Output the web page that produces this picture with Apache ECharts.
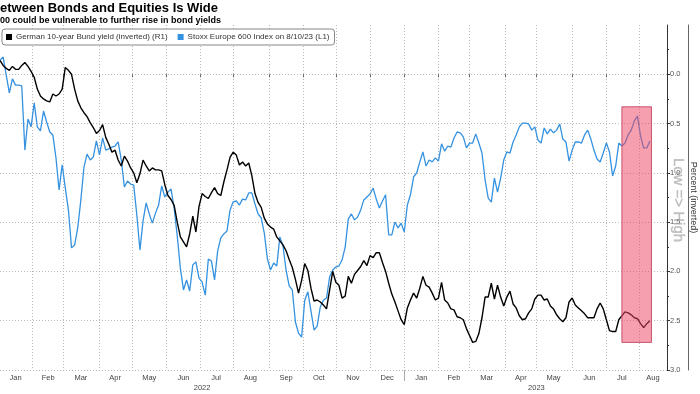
<!DOCTYPE html>
<html>
<head>
<meta charset="utf-8">
<script src="https://cdn.jsdelivr.net/npm/echarts@6/dist/echarts.min.js"></script>
<style>
html,body{margin:0;padding:0;background:#fff;}
#chart{width:700px;height:394px;}
</style>
</head>
<body>
<div id="chart"></div>
<script>
// ---- Data ----
const startDate = '2022-01-03';
const endDate = '2023-08-25';
const sampleStep = 2; // one value every 2nd business day
const seriesNames = ['German 10-year Bund yield (inverted) (R1)', 'Stoxx Europe 600 Index on 8/10/23 (L1)'];
const monthNames = ['Jan','Feb','Mar','Apr','May','Jun','Jul','Aug','Sep','Oct','Nov','Dec'];
const yieldTicks = [0, 0.5, 1.0, 1.5, 2.0, 2.5, 3.0];

const bundYield = [
 -0.14,-0.09,-0.06,-0.04,-0.08,-0.05,-0.05,-0.09,-0.12,-0.08,
 -0.03,0.03,0.15,0.22,0.25,0.27,0.28,0.20,0.22,0.20,
 0.15,-0.07,-0.04,0.00,0.15,0.27,0.34,0.39,0.43,0.49,
 0.54,0.60,0.57,0.51,0.64,0.71,0.79,0.77,0.87,0.93,
 0.83,0.88,0.95,1.00,1.10,1.01,0.87,0.93,0.98,0.95,
 0.97,0.97,0.98,1.12,1.23,1.27,1.33,1.50,1.65,1.70,
 1.75,1.62,1.44,1.60,1.34,1.21,1.24,1.26,1.20,1.15,
 1.21,1.23,1.09,0.97,0.84,0.79,0.82,0.92,0.89,0.93,
 0.90,1.03,1.21,1.30,1.35,1.46,1.52,1.55,1.57,1.65,
 1.69,1.73,1.79,1.88,1.96,2.08,2.22,2.09,1.92,1.99,
 2.17,2.30,2.29,2.31,2.34,2.38,2.19,2.00,2.11,2.14,
 2.27,2.25,2.05,2.12,2.03,1.99,1.95,1.89,1.94,1.84,
 1.86,1.81,1.81,1.91,2.00,2.12,2.23,2.31,2.40,2.49,
 2.54,2.37,2.29,2.22,2.27,2.17,2.05,2.14,2.16,2.22,
 2.29,2.27,2.11,2.29,2.32,2.38,2.39,2.46,2.47,2.49,
 2.58,2.65,2.72,2.71,2.63,2.47,2.26,2.26,2.12,2.28,
 2.14,2.26,2.35,2.26,2.20,2.33,2.37,2.45,2.49,2.48,
 2.42,2.38,2.28,2.24,2.24,2.29,2.28,2.35,2.38,2.44,
 2.48,2.51,2.47,2.31,2.27,2.34,2.37,2.40,2.43,2.47,
 2.47,2.47,2.38,2.32,2.38,2.49,2.60,2.61,2.61,2.49,
 2.45,2.41,2.42,2.44,2.47,2.48,2.53,2.57,2.53,2.50
];

const stoxx600 = [
 493.0,494.1,487.4,480.8,486.0,483.7,483.7,483.4,459.6,471.1,
 468.2,477.1,468.2,466.7,474.1,470.0,466.3,465.2,456.7,444.8,
 454.1,445.5,437.4,423.3,424.4,430.7,441.1,453.3,458.1,455.9,
 457.0,463.0,457.8,464.1,459.6,460.0,460.7,461.1,462.6,455.9,
 445.9,448.1,447.0,446.6,435.5,422.5,433.3,440.0,435.9,432.5,
 436.2,439.2,446.3,442.2,444.0,445.2,438.1,427.7,415.8,407.7,
 411.4,407.3,417.0,418.1,412.1,410.6,405.8,419.2,418.4,411.4,
 422.2,427.0,428.5,429.6,437.4,440.4,440.7,439.2,441.4,441.1,
 443.7,443.7,439.6,435.9,434.4,428.8,419.2,415.1,417.7,416.6,
 427.4,424.0,415.1,409.2,407.7,395.8,391.7,390.2,403.9,407.0,
 399.9,392.8,394.3,401.4,403.9,404.7,412.5,415.1,416.2,416.6,
 418.8,423.6,434.0,435.9,433.7,434.8,437.4,441.1,442.2,443.3,
 445.5,441.4,438.1,440.7,443.0,428.1,428.1,432.9,430.7,432.5,
 429.2,439.2,443.0,449.6,451.1,455.2,458.9,453.7,455.9,455.2,
 456.7,455.5,461.9,459.2,461.1,460.7,464.1,466.3,466.0,464.5,
 460.4,462.2,462.2,465.6,462.2,458.5,448.5,441.8,440.3,449.2,
 444.0,449.2,455.9,458.9,458.5,462.6,465.2,468.2,469.6,469.6,
 469.3,467.0,468.2,463.3,462.2,467.8,465.6,467.4,466.0,467.0,
 469.3,463.7,462.6,455.5,459.6,462.6,462.6,462.2,465.2,467.0,
 463.7,459.6,456.3,455.2,458.5,462.2,458.9,450.0,453.7,462.2,
 461.1,462.2,465.2,467.0,470.4,472.2,464.8,460.4,460.4,463.0
];

const highlightDates = ['2023-07-17', '2023-08-11'];
const highlightYields = [0.33, 2.72];

// ---- Build business-day categories ----
function businessDays(s, e) {
  const out = [];
  const d = new Date(s + 'T00:00:00Z');
  const end = new Date(e + 'T00:00:00Z');
  while (d <= end) {
    const w = d.getUTCDay();
    if (w !== 0 && w !== 6) out.push(d.toISOString().slice(0, 10));
    d.setUTCDate(d.getUTCDate() + 1);
  }
  return out;
}
const dates = businessDays(startDate, endDate);

function toSeries(arr) {
  return dates.map((d, k) => (k % sampleStep === 0 && k / sampleStep < arr.length) ? arr[k / sampleStep] : null);
}

const monthGroups = {}, yearGroups = {};
dates.forEach((d, k) => {
  (monthGroups[d.slice(0, 7)] = monthGroups[d.slice(0, 7)] || []).push(k);
  (yearGroups[d.slice(0, 4)] = yearGroups[d.slice(0, 4)] || []).push(k);
});
const monthStart = new Set(), monthMid = new Set(), yearStart = new Set(), yearMid = new Set();
Object.values(monthGroups).forEach(g => { if (g[0] > 0) monthStart.add(g[0]); monthMid.add(Math.floor((g[0] + g[g.length - 1] + 1) / 2)); });
Object.values(yearGroups).forEach(g => { if (g[0] > 0) yearStart.add(g[0]); yearMid.add(Math.floor((g[0] + g[g.length - 1] + 1) / 2)); });

const FONT = 'Liberation Sans';
const gridLine = { show: true, lineStyle: { color: '#b8b8b8', width: 1, type: [1, 2] } };

const chart = echarts.init(document.getElementById('chart'), null, { renderer: 'canvas' });
chart.setOption({
  backgroundColor: '#fff',
  animation: false,
  textStyle: { fontFamily: FONT },
  title: {
    text: 'etween Bonds and Equities Is Wide',
    subtext: '00 could be vulnerable to further rise in bond yields',
    left: 0, top: 2, padding: 0, itemGap: 1,
    textStyle: { fontSize: 13, fontWeight: 'bold', color: '#000', fontFamily: FONT },
    subtextStyle: { fontSize: 9, fontWeight: 'bold', color: '#000', fontFamily: FONT }
  },
  legend: {
    data: seriesNames,
    left: 2, top: 29,
    icon: 'rect', itemWidth: 6, itemHeight: 6, itemGap: 10,
    backgroundColor: '#fff', borderColor: '#888', borderWidth: 1, borderRadius: 3,
    padding: [4, 5, 4, 4],
    textStyle: { fontSize: 8, color: '#333', fontFamily: FONT, padding: [0, 0, 0, -1] },
    z: 20
  },
  grid: { left: 0, right: 33, top: 25, bottom: 24, outerBoundsMode: 'none', containLabel: false },
  xAxis: [{
    type: 'category', data: dates, boundaryGap: false, position: 'bottom',
    axisLine: { show: false },
    axisTick: { show: true, interval: (i) => monthStart.has(i), length: 3, lineStyle: { color: '#666' } },
    axisLabel: { interval: (i) => monthMid.has(i), formatter: (v) => monthNames[+v.slice(5, 7) - 1],
      fontSize: 7.5, color: '#444', margin: 4, fontFamily: FONT },
    splitLine: Object.assign({ interval: (i) => monthStart.has(i) }, gridLine)
  }, {
    type: 'category', data: dates, boundaryGap: false, position: 'bottom', offset: 12,
    axisLine: { show: false },
    axisTick: { show: true, interval: (i) => yearStart.has(i), length: 11, lineStyle: { color: '#aaa' } },
    axisLabel: { interval: (i) => yearMid.has(i), formatter: (v) => v.slice(0, 4),
      fontSize: 7.5, color: '#444', margin: 2, fontFamily: FONT },
    splitLine: { show: false }
  }],
  yAxis: [{
    type: 'value', position: 'left', min: 378, max: 506, show: false, splitLine: { show: false }
  }, {
    type: 'value', position: 'right', inverse: true, min: -0.5, max: 3.0, interval: 0.5,
    axisLine: { show: true, lineStyle: { color: '#333', width: 1 } },
    axisTick: { show: true, inside: false, length: 3, customValues: yieldTicks, lineStyle: { color: '#333' } },
    minorTick: { show: true, splitNumber: 2, length: 2, lineStyle: { color: '#333' } },
    axisLabel: { customValues: yieldTicks, formatter: (v) => (+v).toFixed(1), fontSize: 7.5, color: '#555', margin: 3, fontFamily: FONT },
    splitLine: gridLine
  }, {
    type: 'value', position: 'right', offset: 21, min: 0, max: 1,
    axisLine: { show: true, lineStyle: { color: '#666', width: 1 } },
    axisTick: { show: false }, axisLabel: { show: false }, splitLine: { show: false },
    name: 'Percent (inverted)', nameLocation: 'middle', nameRotate: -90, nameGap: 1,
    nameTextStyle: { fontSize: 9, color: '#333', fontFamily: FONT }
  }],
  series: [{
    name: seriesNames[1], type: 'line', xAxisIndex: 0, yAxisIndex: 0,
    data: toSeries(stoxx600), connectNulls: true, showSymbol: false, symbol: 'none',
    lineStyle: { color: '#3592e0', width: 1.3 }, itemStyle: { color: '#3592e0' }, z: 3
  }, {
    name: seriesNames[0], type: 'line', xAxisIndex: 0, yAxisIndex: 1,
    data: toSeries(bundYield), connectNulls: true, showSymbol: false, symbol: 'none',
    lineStyle: { color: '#000', width: 1.4 }, itemStyle: { color: '#000' }, z: 4
  }, {
    name: 'highlight', type: 'line', xAxisIndex: 0, yAxisIndex: 1, data: [], z: 10,
    markArea: {
      silent: true, z: 10,
      itemStyle: { color: 'rgba(238,70,100,0.52)', borderColor: '#c8526c', borderWidth: 1 },
      data: [[{ xAxis: highlightDates[0], yAxis: highlightYields[0] }, { xAxis: highlightDates[1], yAxis: highlightYields[1] }]]
    }
  }],
  graphic: [{
    type: 'text', x: 678, y: 200, rotation: -Math.PI / 2, z: 30, silent: true,
    style: { text: 'Low => High', fontSize: 15, fontFamily: FONT, fill: 'rgba(170,170,170,0.7)',
      stroke: 'rgba(120,120,120,0.35)', lineWidth: 0.5,
      align: 'center', verticalAlign: 'middle', textAlign: 'center', textVerticalAlign: 'middle' }
  }]
});
</script>
</body>
</html>
